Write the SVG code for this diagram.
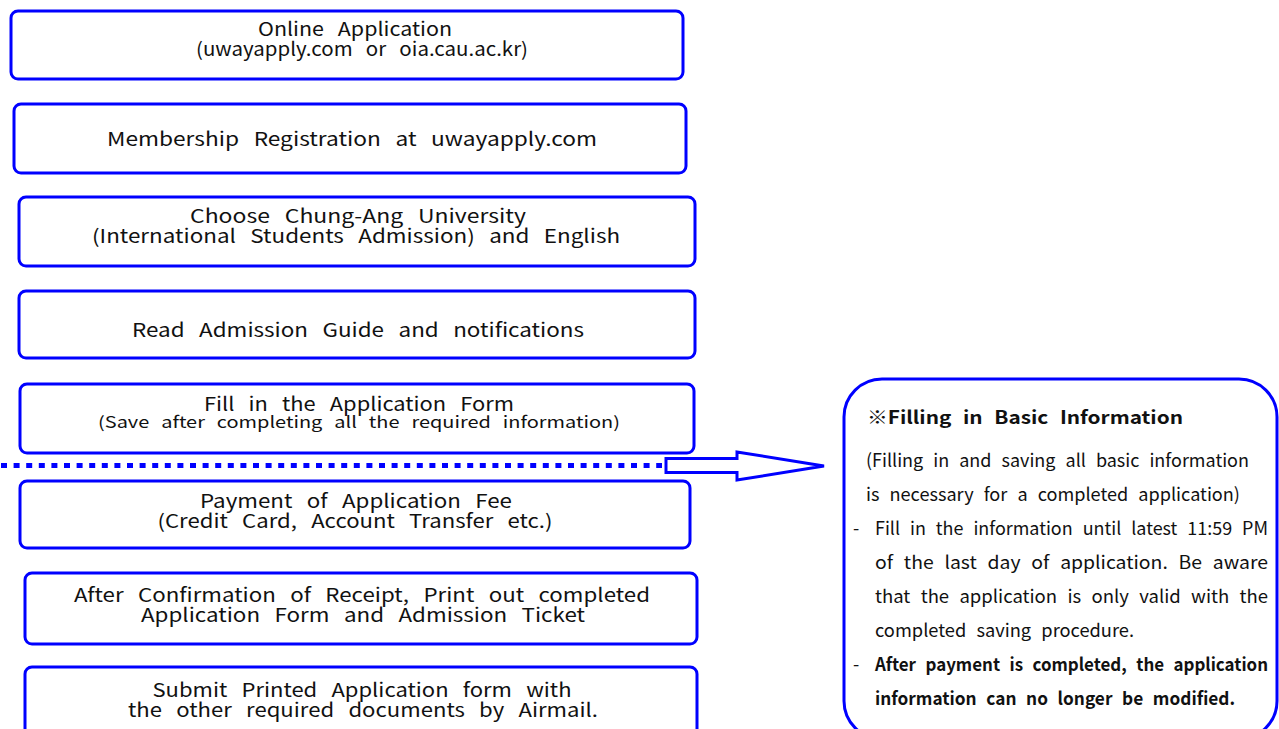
<svg xmlns="http://www.w3.org/2000/svg" width="1279" height="729" viewBox="0 0 1279 729">
<style>
.box{fill:#fff;stroke:#0000ff;stroke-width:3}
.t{font-family:"Noto Sans CJK KR","Noto Sans",sans-serif;font-size:19px;fill:#111;text-anchor:middle;word-spacing:8px}
.s{font-size:16px;word-spacing:6px}
.r{font-family:"Noto Sans CJK KR","Noto Sans",sans-serif;font-size:18px;fill:#111;word-spacing:6px}
.b{font-weight:bold}
</style>
<rect width="1279" height="729" fill="#fff"/>
<g id="connectors">
<line x1="1" y1="465.5" x2="662" y2="465.5" stroke="#0000ff" stroke-width="5" stroke-dasharray="6 6.6"/>
<path d="M666,458.5 L737,458.5 L737,452 L824,466 L737,480 L737,472.5 L666,472.5 Z" fill="#fff" stroke="#0000ff" stroke-width="3" stroke-linejoin="miter"/>
</g>
<g id="n1"><rect class="box" x="11" y="11" width="672" height="68" rx="7"/>
<text class="t" x="355" y="36" textLength="194" lengthAdjust="spacingAndGlyphs">Online Application</text>
<text class="t" x="362" y="56" textLength="332" lengthAdjust="spacingAndGlyphs">(uwayapply.com or oia.cau.ac.kr)</text></g>
<g id="n2"><rect class="box" x="14" y="104" width="672" height="69" rx="7"/>
<text class="t" x="352" y="146" textLength="490" lengthAdjust="spacingAndGlyphs">Membership Registration at uwayapply.com</text></g>
<g id="n3"><rect class="box" x="19" y="197" width="676" height="69" rx="7"/>
<text class="t" x="358" y="223" textLength="336" lengthAdjust="spacingAndGlyphs">Choose Chung-Ang University</text>
<text class="t" x="356" y="243" textLength="528" lengthAdjust="spacingAndGlyphs">(International Students Admission) and English</text></g>
<g id="n4"><rect class="box" x="19" y="291" width="676" height="67" rx="7"/>
<text class="t" x="358" y="337" textLength="452" lengthAdjust="spacingAndGlyphs">Read Admission Guide and notifications</text></g>
<g id="n5"><rect class="box" x="20" y="384" width="674" height="69" rx="7"/>
<text class="t" x="359" y="411" textLength="310" lengthAdjust="spacingAndGlyphs">Fill in the Application Form</text>
<text class="t s" x="359" y="428" textLength="522" lengthAdjust="spacingAndGlyphs">(Save after completing all the required information)</text></g>
<g id="n6"><rect class="box" x="20" y="481" width="670" height="67" rx="7"/>
<text class="t" x="356" y="508" textLength="312" lengthAdjust="spacingAndGlyphs">Payment of Application Fee</text>
<text class="t" x="355" y="528" textLength="395" lengthAdjust="spacingAndGlyphs">(Credit Card, Account Transfer etc.)</text></g>
<g id="n7"><rect class="box" x="25" y="573" width="672" height="71" rx="7"/>
<text class="t" x="362" y="602" textLength="576" lengthAdjust="spacingAndGlyphs">After Confirmation of Receipt, Print out completed</text>
<text class="t" x="363" y="622" textLength="444" lengthAdjust="spacingAndGlyphs">Application Form and Admission Ticket</text></g>
<g id="n8"><rect class="box" x="25" y="667" width="672" height="80" rx="7"/>
<text class="t" x="362" y="697" textLength="419" lengthAdjust="spacingAndGlyphs">Submit Printed Application form with</text>
<text class="t" x="363" y="717" textLength="470" lengthAdjust="spacingAndGlyphs">the other required documents by Airmail.</text></g>
<g id="note"><rect class="box" x="844" y="379" width="433" height="360" rx="38"/>
<text class="r b" x="867" y="424" font-size="21" textLength="316" lengthAdjust="spacingAndGlyphs">※Filling in Basic Information</text>
<text class="r" x="866" y="467" textLength="383" lengthAdjust="spacingAndGlyphs">(Filling in and saving all basic information</text>
<text class="r" x="866" y="501" textLength="374" lengthAdjust="spacingAndGlyphs">is necessary for a completed application)</text>
<text class="r" x="853" y="535">-</text>
<text class="r" x="875" y="535" textLength="393" lengthAdjust="spacingAndGlyphs">Fill in the information until latest 11:59 PM</text>
<text class="r" x="875" y="569" textLength="393" lengthAdjust="spacingAndGlyphs">of the last day of application. Be aware</text>
<text class="r" x="875" y="603" textLength="393" lengthAdjust="spacingAndGlyphs">that the application is only valid with the</text>
<text class="r" x="875" y="637" textLength="259" lengthAdjust="spacingAndGlyphs">completed saving procedure.</text>
<text class="r" x="853" y="671">-</text>
<text class="r b" x="875" y="671" textLength="393" lengthAdjust="spacingAndGlyphs">After payment is completed, the application</text>
<text class="r b" x="875" y="705" textLength="360" lengthAdjust="spacingAndGlyphs">information can no longer be modified.</text></g>
</svg>
